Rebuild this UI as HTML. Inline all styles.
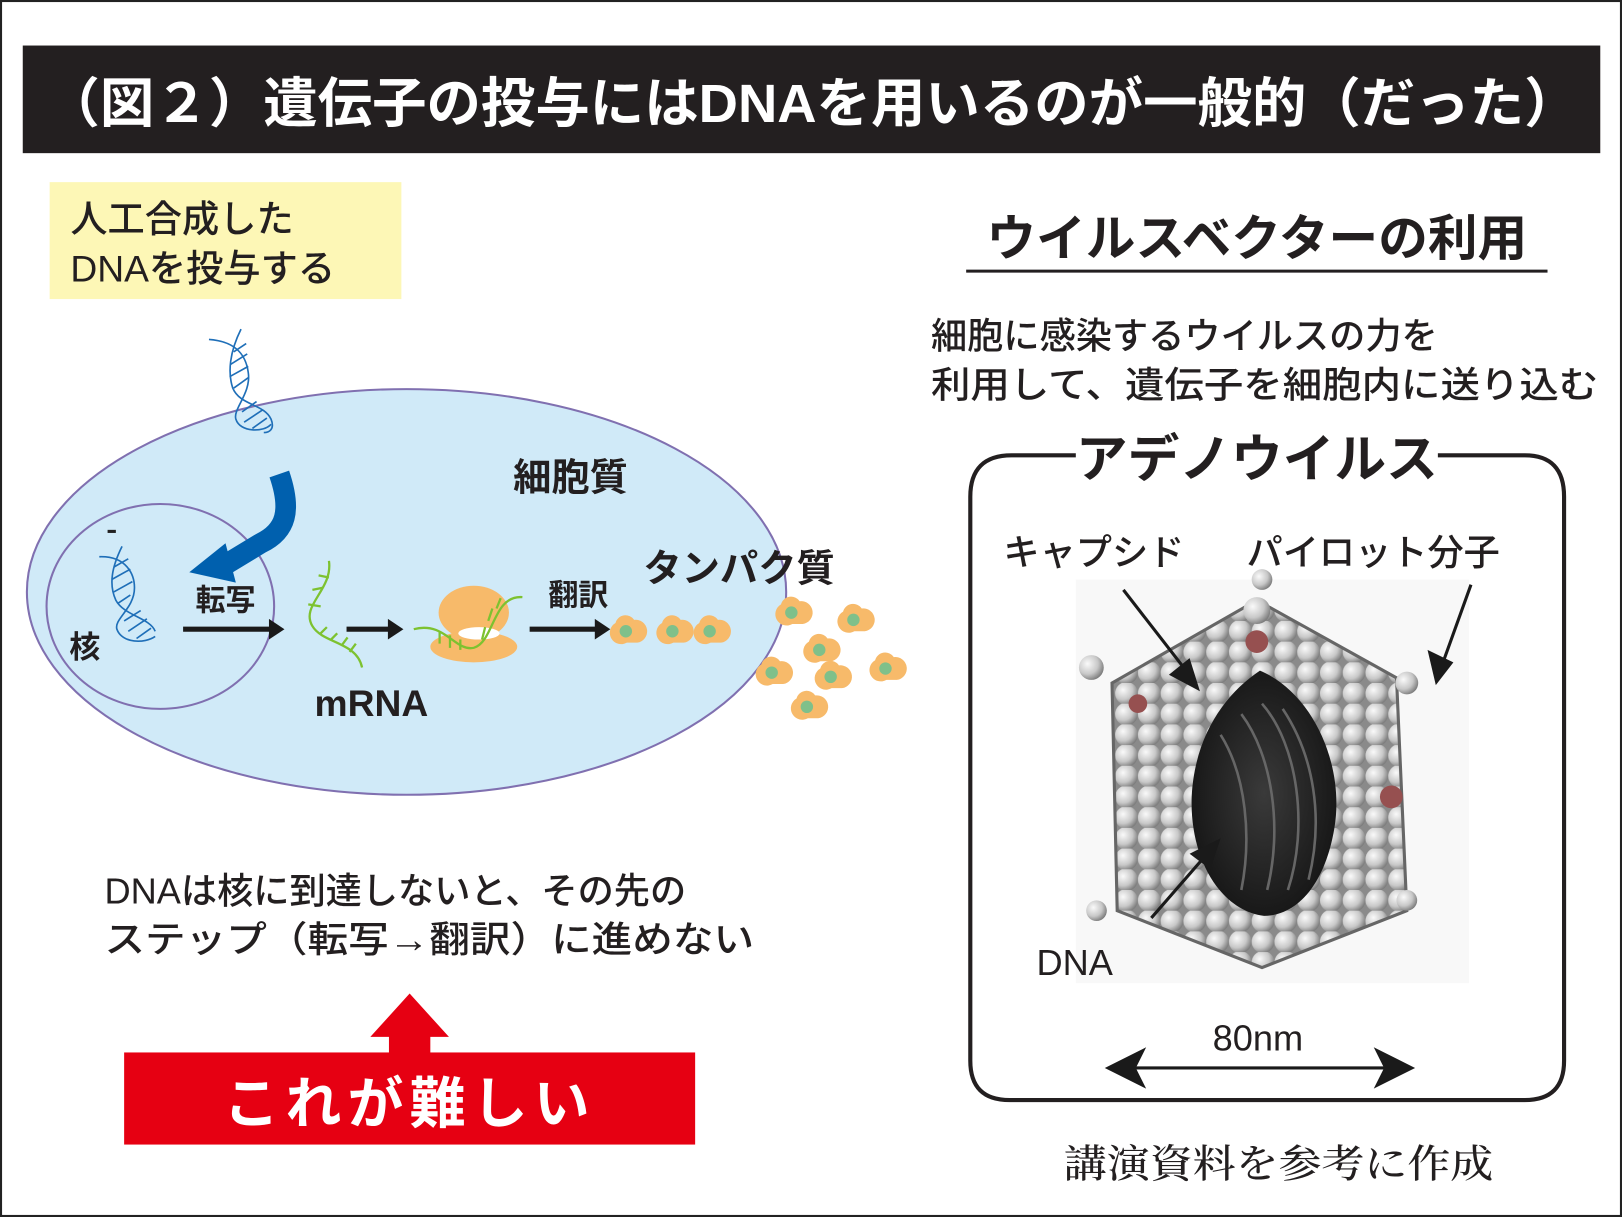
<!DOCTYPE html>
<html><head><meta charset="utf-8"><style>
body{margin:0;background:#fff}
svg{display:block}
text{font-family:"Liberation Sans","Noto Sans CJK JP",sans-serif;font-weight:bold}
</style></head><body>
<svg width="1622" height="1217" viewBox="0 0 1568 1176" preserveAspectRatio="none" xmlns="http://www.w3.org/2000/svg">
<defs>
<radialGradient id="sp" cx="35%" cy="35%" r="70%"><stop offset="0" stop-color="#fafafa"/><stop offset="0.6" stop-color="#c8c8c8"/><stop offset="1" stop-color="#7a7a7a"/></radialGradient>
<pattern id="balls" width="22" height="20" patternUnits="userSpaceOnUse"><rect width="22" height="20" fill="#8a8a8a"/><circle cx="11" cy="10" r="11" fill="url(#sp)"/></pattern>
<radialGradient id="dk" cx="50%" cy="50%" r="55%"><stop offset="0" stop-color="#3a3a3a"/><stop offset="1" stop-color="#151515"/></radialGradient>
</defs>
<rect x="1" y="1" width="1566" height="1174" fill="#fff" stroke="#222" stroke-width="2"/>
<rect x="22" y="44" width="1525" height="104" fill="#231f20"/>
<text x="785" y="118" font-size="52" fill="#fff" text-anchor="middle" textLength="1482" lengthAdjust="spacingAndGlyphs">（図２）遺伝子の投与にはDNAを用いるのが一般的（だった）</text>

<rect x="48" y="176" width="340" height="113" fill="#fdf7b6"/>
<text x="68" y="224" font-size="36" fill="#231f20" style="font-weight:500">人工合成した</text>
<text x="68" y="272" font-size="36" fill="#231f20" style="font-weight:500">DNAを投与する</text>

<ellipse cx="393" cy="572" rx="367" ry="196" fill="#d0eaf8" stroke="#8070b0" stroke-width="2"/>
<ellipse cx="155" cy="586" rx="110" ry="99" fill="none" stroke="#8070b0" stroke-width="2"/>
<g stroke="#1f6fb8" stroke-width="1.6" fill="none">
<path d="M202,328 C230,330 238,345 240,360 C243,380 225,395 228,405 C232,418 255,418 262,410"/>
<path d="M233,318 C222,340 220,360 225,375 C232,392 255,390 262,405 C266,415 260,418 255,418"/>
<path d="M226,340 l12,-8 M223,352 l16,-10 M222,364 l18,-10 M226,375 l14,-10 M234,398 l14,-10 M236,408 l18,-12 M244,414 l14,-10"/>
</g>
<g stroke="#1f6fb8" stroke-width="1.6" fill="none">
<path d="M96,538 C122,537 130,555 130,568 C130,588 110,598 113,608 C118,622 140,622 150,615"/>
<path d="M118,528 C108,548 105,565 112,580 C120,595 145,597 150,610"/>
<path d="M110,548 l14,-8 M108,560 l18,-10 M110,572 l18,-10 M114,583 l12,-8 M120,600 l16,-10 M124,610 l18,-12 M132,617 l14,-10"/>
</g>
<rect x="104" y="512" width="8" height="3" fill="#222"/>
<path d="M270,458 C282,493 277,513 252,525 L214,548" stroke="#0060ae" stroke-width="20" fill="none"/>
<path d="M183,553 L218,525 L228,563 z" fill="#0060ae"/>

<text x="496" y="474" font-size="37" fill="#231f20">細胞質</text>
<text x="622" y="562" font-size="37" fill="#231f20">タンパク質</text>
<text x="189" y="590" font-size="29" fill="#231f20">転写</text>
<text x="530" y="585" font-size="29" fill="#231f20">翻訳</text>
<text x="67" y="636" font-size="30" fill="#231f20">核</text>
<text x="304" y="692" font-size="36" fill="#231f20">mRNA</text>

<path d="M177,608 L262,608" stroke="#1a1a1a" stroke-width="5"/>
<path d="M260,598 L275,608 L260,618 z" fill="#1a1a1a"/>
<path d="M335,608 L378,608" stroke="#1a1a1a" stroke-width="5"/>
<path d="M375,598 L390,608 L375,618 z" fill="#1a1a1a"/>
<path d="M512,608 L578,608" stroke="#1a1a1a" stroke-width="5"/>
<path d="M575,598 L590,608 L575,618 z" fill="#1a1a1a"/>

<g stroke="#7dc230" stroke-width="2.2" fill="none">
<path d="M318,542 C322,570 290,585 302,605 C312,622 345,620 350,645"/>
<path d="M308,556 l10,2 M302,570 l10,-2 M298,584 l12,2 M310,612 l6,-6 M320,618 l6,-6 M330,624 l6,-8 M338,630 l6,-8"/>
</g>
<ellipse cx="458" cy="592" rx="34" ry="26" fill="#f7ba6a"/>
<ellipse cx="458" cy="625" rx="42" ry="15" fill="#f7ba6a"/>
<ellipse cx="463" cy="612" rx="20" ry="6" fill="#fff"/>
<g stroke="#7dc230" stroke-width="2.2" fill="none">
<path d="M400,608 C430,600 440,630 458,626 C478,620 476,575 505,577"/>
<path d="M425,610 l0,12 M435,614 l0,12 M445,618 l0,10 M466,618 l3,-12 M472,600 l4,-12 M480,588 l4,-10"/>
</g>
<g>
<g transform="translate(605,610)"><path d="M-10,-8 a10,10 0 0 1 18,-3 a9,9 0 0 1 3,22 l-10,0 a10,10 0 0 1 -11,-19z" fill="#f7ba6a"/><circle cx="0" cy="0" r="6" fill="#7fc08a"/></g>
<g transform="translate(650,610)"><path d="M-10,-8 a10,10 0 0 1 18,-3 a9,9 0 0 1 3,22 l-10,0 a10,10 0 0 1 -11,-19z" fill="#f7ba6a"/><circle cx="0" cy="0" r="6" fill="#7fc08a"/></g>
<g transform="translate(686,610)"><path d="M-10,-8 a10,10 0 0 1 18,-3 a9,9 0 0 1 3,22 l-10,0 a10,10 0 0 1 -11,-19z" fill="#f7ba6a"/><circle cx="0" cy="0" r="6" fill="#7fc08a"/></g>
<g transform="translate(765,592)"><path d="M-10,-8 a10,10 0 0 1 18,-3 a9,9 0 0 1 3,22 l-10,0 a10,10 0 0 1 -11,-19z" fill="#f7ba6a"/><circle cx="0" cy="0" r="6" fill="#7fc08a"/></g>
<g transform="translate(825,599)"><path d="M-10,-8 a10,10 0 0 1 18,-3 a9,9 0 0 1 3,22 l-10,0 a10,10 0 0 1 -11,-19z" fill="#f7ba6a"/><circle cx="0" cy="0" r="6" fill="#7fc08a"/></g>
<g transform="translate(792,628)"><path d="M-10,-8 a10,10 0 0 1 18,-3 a9,9 0 0 1 3,22 l-10,0 a10,10 0 0 1 -11,-19z" fill="#f7ba6a"/><circle cx="0" cy="0" r="6" fill="#7fc08a"/></g>
<g transform="translate(746,650)"><path d="M-10,-8 a10,10 0 0 1 18,-3 a9,9 0 0 1 3,22 l-10,0 a10,10 0 0 1 -11,-19z" fill="#f7ba6a"/><circle cx="0" cy="0" r="6" fill="#7fc08a"/></g>
<g transform="translate(803,654)"><path d="M-10,-8 a10,10 0 0 1 18,-3 a9,9 0 0 1 3,22 l-10,0 a10,10 0 0 1 -11,-19z" fill="#f7ba6a"/><circle cx="0" cy="0" r="6" fill="#7fc08a"/></g>
<g transform="translate(856,646)"><path d="M-10,-8 a10,10 0 0 1 18,-3 a9,9 0 0 1 3,22 l-10,0 a10,10 0 0 1 -11,-19z" fill="#f7ba6a"/><circle cx="0" cy="0" r="6" fill="#7fc08a"/></g>
<g transform="translate(780,683)"><path d="M-10,-8 a10,10 0 0 1 18,-3 a9,9 0 0 1 3,22 l-10,0 a10,10 0 0 1 -11,-19z" fill="#f7ba6a"/><circle cx="0" cy="0" r="6" fill="#7fc08a"/></g>
</g>

<text x="101" y="873" font-size="35" fill="#231f20" style="font-weight:500">DNAは核に到達しないと、その先の</text>
<text x="101" y="920" font-size="35" fill="#231f20" style="font-weight:500" textLength="628" lengthAdjust="spacingAndGlyphs">ステップ（転写→翻訳）に進めない</text>

<path d="M358,1002 L396,960 L434,1002 L416,1002 L416,1020 L376,1020 L376,1002z" fill="#e60012"/>
<rect x="120" y="1017" width="552" height="89" fill="#e60012"/>
<text x="396" y="1085" font-size="54" fill="#fff" text-anchor="middle" letter-spacing="6">これが難しい</text>

<text x="1215" y="247" font-size="48" fill="#231f20" text-anchor="middle">ウイルスベクターの利用</text>
<line x1="934" y1="262" x2="1496" y2="262" stroke="#231f20" stroke-width="3"/>
<text x="900" y="337" font-size="35" fill="#231f20" style="font-weight:500">細胞に感染するウイルスの力を</text>
<text x="900" y="384" font-size="35" fill="#231f20" style="font-weight:500" textLength="645" lengthAdjust="spacingAndGlyphs">利用して、遺伝子を細胞内に送り込む</text>

<path d="M1040,440 L978,440 Q938,440 938,480 L938,1025 Q938,1063 976,1063 L1474,1063 Q1512,1063 1512,1025 L1512,480 Q1512,440 1474,440 L1390,440" fill="none" stroke="#231f20" stroke-width="4"/>
<text x="1215" y="461" font-size="50" fill="#231f20" text-anchor="middle">アデノウイルス</text>
<text x="970" y="546" font-size="35" fill="#231f20" style="font-weight:500">キャプシド</text>
<text x="1205" y="546" font-size="35" fill="#231f20" style="font-weight:500">パイロット分子</text>

<rect x="1040" y="560" width="380" height="390" fill="#f8f8f8"/>
<path d="M1215,580 L1350,655 L1360,880 L1220,935 L1080,880 L1075,660 z" fill="url(#balls)" stroke="#666" stroke-width="3"/>
<g fill="url(#sp)"><circle cx="1215" cy="590" r="13"/><circle cx="1220" cy="560" r="10"/><circle cx="1055" cy="645" r="12"/><circle cx="1360" cy="660" r="11"/><circle cx="1060" cy="880" r="10"/><circle cx="1360" cy="870" r="10"/></g>
<circle cx="1215" cy="620" r="11" fill="#965050"/>
<circle cx="1100" cy="680" r="9" fill="#965050"/>
<circle cx="1345" cy="770" r="11" fill="#965050"/>
<path d="M1218,648 C1270,670 1300,740 1290,800 C1280,860 1250,885 1222,885 C1180,880 1150,830 1152,770 C1155,710 1185,670 1218,648z" fill="url(#dk)"/>
<g stroke="#666" stroke-width="2.5" fill="none"><path d="M1200,690 C1230,730 1240,800 1225,860"/><path d="M1220,680 C1255,720 1265,800 1245,860"/><path d="M1240,685 C1270,730 1280,790 1265,850"/><path d="M1180,710 C1205,750 1210,810 1200,860"/></g>

<g stroke="#1a1a1a" stroke-width="3" fill="none">
<line x1="1086" y1="570" x2="1152" y2="655"/>
<line x1="1422" y1="565" x2="1395" y2="640"/>
<line x1="1113" y1="887" x2="1167" y2="825"/>
<line x1="1090" y1="1032" x2="1350" y2="1032"/>
</g>
<path d="M1160,668 L1130,652 L1150,636 z" fill="#1a1a1a"/>
<path d="M1388,662 L1380,628 L1405,640 z" fill="#1a1a1a"/>
<path d="M1180,810 L1150,825 L1170,840 z" fill="#1a1a1a"/>
<path d="M1068,1032 L1108,1012 L1098,1032 L1108,1052 z" fill="#1a1a1a"/>
<path d="M1368,1032 L1328,1012 L1338,1032 L1328,1052 z" fill="#1a1a1a"/>
<text x="1002" y="942" font-size="35" fill="#231f20" style="font-weight:500">DNA</text>
<text x="1216" y="1015" font-size="35" fill="#231f20" text-anchor="middle" style="font-weight:500">80nm</text>

<text x="1236" y="1138" font-size="38" fill="#231f20" text-anchor="middle" textLength="415" lengthAdjust="spacingAndGlyphs" style="font-family:'Liberation Serif','Noto Serif CJK SC',serif;font-weight:500">講演資料を参考に作成</text>
</svg>
</body></html>
